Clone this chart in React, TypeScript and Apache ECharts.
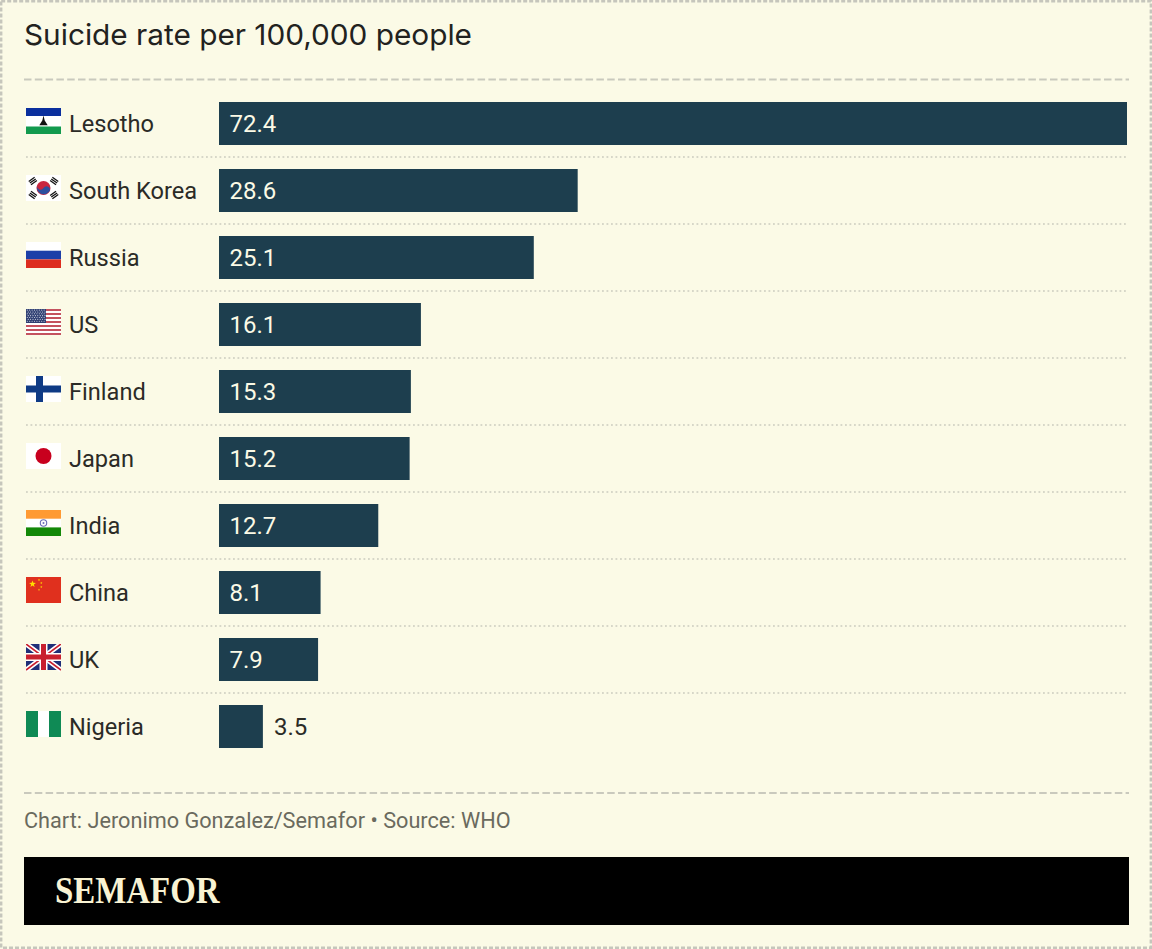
import React, { useEffect, useRef } from "react";
import * as echarts from "echarts";

const categories = ["Lesotho", "South Korea", "Russia", "US", "Finland", "Japan", "India", "China", "UK", "Nigeria"];
const rates = [72.4, 28.6, 25.1, 16.1, 15.3, 15.2, 12.7, 8.1, 7.9, 3.5];
const titleText = "Suicide rate per 100,000 people";
const footerText = "Chart: Jeronimo Gonzalez/Semafor • Source: WHO";
const brandText = "SEMAFOR";

const usStars = () => {
  let s = "";
  for (let r = 0; r < 7; r++) for (let c = 0; c < 8; c++) s += `<circle cx="${1.3 + c * 2.4 + (r % 2) * 0.9}" cy="${1.1 + r * 1.85}" r="0.55" fill="#d9dce8"/>`;
  return s;
};
const usStripes = () => {
  let s = "";
  for (let i = 0; i < 7; i++) s += `<rect y="${(i * 2 * 26) / 13}" width="35" height="2" fill="#c4525f"/>`;
  return s;
};
const star = (cx: number, cy: number, r: number) => {
  const pts = [];
  for (let i = 0; i < 10; i++) {
    const a = -Math.PI / 2 + (i * Math.PI) / 5;
    const q = i % 2 ? r * 0.4 : r;
    pts.push(`${(cx + q * Math.cos(a)).toFixed(2)},${(cy + q * Math.sin(a)).toFixed(2)}`);
  }
  return `<polygon points="${pts.join(" ")}" fill="#ffde00"/>`;
};
const trigram = (cx: number, cy: number, rot: number) =>
  `<g transform="translate(${cx} ${cy}) rotate(${rot})" fill="#111"><rect x="-3.6" y="-2.6" width="7.2" height="1.3"/><rect x="-3.6" y="-0.65" width="7.2" height="1.3"/><rect x="-3.6" y="1.3" width="7.2" height="1.3"/></g>`;

const flagBodies: Record<string, string> = {
  Lesotho: `<rect width="35" height="26" fill="#fff"/><rect width="35" height="8" fill="#0a2f9e"/><rect y="18.5" width="35" height="7.5" fill="#129a4e"/><path d="M17.5 7.6l1.2 4.8 3 4.8h-8.4l3-4.8z" fill="#111"/>`,
  "South Korea": `<rect width="35" height="26" fill="#fff"/><circle cx="17.5" cy="13" r="7" fill="#c9263f"/><path d="M10.9 10.8a3.6 3.6 0 0 0 6.6 2.2a3.6 3.6 0 0 1 6.6 2.2a7 7 0 0 1-13.2-4.4z" fill="#2b4f9e"/>${trigram(6.8, 6, -35)}${trigram(28.2, 6, 35)}${trigram(6.8, 20, 35)}${trigram(28.2, 20, -35)}`,
  Russia: `<rect width="35" height="26" fill="#fff"/><rect y="8.7" width="35" height="8.7" fill="#1c3fa8"/><rect y="17.4" width="35" height="8.6" fill="#dd2d1f"/>`,
  US: `<rect width="35" height="26" fill="#fff"/>${usStripes()}<rect width="20" height="14" fill="#2f3f72"/>${usStars()}`,
  Finland: `<rect width="35" height="26" fill="#fff"/><rect x="10" width="7" height="26" fill="#0e3a85"/><rect y="9.5" width="35" height="7" fill="#0e3a85"/>`,
  Japan: `<rect width="35" height="26" fill="#fff"/><circle cx="17.5" cy="13" r="8" fill="#c8001e"/>`,
  India: `<rect width="35" height="26" fill="#fff"/><rect width="35" height="8.7" fill="#ff9a33"/><rect y="17.4" width="35" height="8.6" fill="#138808"/><circle cx="17.5" cy="13" r="3.2" fill="none" stroke="#6a6fb8" stroke-width="1.1"/><circle cx="17.5" cy="13" r="1" fill="#6a6fb8"/>`,
  China: `<rect width="35" height="26" fill="#e0301e"/>${star(6.5, 7, 3.6)}${star(13, 3, 1.2)}${star(15.3, 6, 1.2)}${star(15.3, 10, 1.2)}${star(13, 12.8, 1.2)}`,
  UK: `<rect width="35" height="26" fill="#1f2f78"/><path d="M0 0L35 26M35 0L0 26" stroke="#fff" stroke-width="5"/><path d="M0 0L35 26M35 0L0 26" stroke="#c8202f" stroke-width="1.7"/><rect x="13.5" width="8" height="26" fill="#fff"/><rect y="9" width="35" height="8" fill="#fff"/><rect x="15" width="5" height="26" fill="#c8202f"/><rect y="10.5" width="35" height="5" fill="#c8202f"/>`,
  Nigeria: `<rect width="35" height="26" fill="#fff"/><rect width="12" height="26" fill="#0f8a55"/><rect x="23" width="12" height="26" fill="#0f8a55"/>`,
};

const flagUri = (name: string) =>
  "data:image/svg+xml;charset=utf-8," +
  encodeURIComponent(`<svg xmlns="http://www.w3.org/2000/svg" width="35" height="31" viewBox="0 0 35 31">${flagBodies[name]}</svg>`);

const BODY_FONT = "Roboto";
const INK = "#2b2b26";
const BG = "#fbfae6";
const RULE = "#c9c9bd";

export default function App() {
  const ref = useRef<HTMLDivElement>(null);
  useEffect(() => {
    document.body.style.margin = "0";
    document.body.style.background = BG;
    const chart = echarts.init(ref.current!, null, { renderer: "svg" });
    const rich: Record<string, any> = {
      name: { fontFamily: BODY_FONT, fontSize: 23.6, color: INK, padding: [0, 0, 0, 8] },
    };
    categories.forEach((c, i) => {
      rich["f" + i] = { width: 35, height: 31, backgroundColor: { image: flagUri(c) } };
    });
    const maxRate = rates[0];
    const pxPerUnit = 908 / maxRate;
    chart.setOption({
      animation: false,
      backgroundColor: BG,
      grid: { left: 26, right: 25, top: 90, height: 670, containLabel: false },
      xAxis: { type: "value", min: -193 / pxPerUnit, max: maxRate, show: false },
      yAxis: {
        type: "category",
        inverse: true,
        data: categories,
        axisLine: { show: false },
        axisTick: { show: false },
        splitLine: {
          show: true,
          showMinLine: false,
          showMaxLine: false,
          lineStyle: { color: "#cbcbbf", width: 1.5, type: [1.8, 2.7] },
        },
        axisLabel: {
          inside: true,
          margin: 0,
          interval: 0,
          align: "left",
          formatter: (v: string) => `{f${categories.indexOf(v)}|}{name|${v}}`,
          rich,
        },
      },
      series: [
        {
          type: "bar",
          barWidth: 43,
          data: rates.map((v) => ({
            value: v,
            label:
              v < 5
                ? { position: "right", distance: 11, color: INK }
                : { position: "insideLeft", distance: 10.5, color: "#fbfae6" },
          })),
          itemStyle: { color: "#1d3e4e" },
          label: { show: true, fontFamily: BODY_FONT, fontSize: 24 },
        },
      ],
      graphic: [
        { type: "rect", shape: { x: 1.2, y: 1.2, width: 1149.6, height: 946.6 }, style: { fill: "none", stroke: "#c6c6bc", lineWidth: 2.4, lineDash: [4, 2] } },
        { type: "text", x: 24, y: 35, scaleX: 1.027, style: { text: titleText, fontFamily: "Inter", fontSize: 29, fill: "#22221e", verticalAlign: "middle" } },
        { type: "line", shape: { x1: 24, y1: 79.5, x2: 1129, y2: 79.5 }, style: { stroke: RULE, lineWidth: 2, lineDash: [7.5, 3.3] } },
        { type: "line", shape: { x1: 24, y1: 793, x2: 1129, y2: 793 }, style: { stroke: RULE, lineWidth: 2, lineDash: [7.5, 3.3] } },
        { type: "text", x: 24, y: 820, style: { text: footerText, fontFamily: BODY_FONT, fontSize: 21.7, fill: "#6a6a5e", verticalAlign: "middle" } },
        { type: "rect", shape: { x: 24, y: 857, width: 1105, height: 68 }, style: { fill: "#000" } },
        { type: "text", x: 55, y: 891, scaleX: 0.89, style: { text: brandText, fontFamily: "Liberation Serif", fontWeight: "bold", fontSize: 37, fill: "#f9f3d3", verticalAlign: "middle" } },
      ],
    });
    return () => chart.dispose();
  }, []);
  return <div ref={ref} style={{ width: 1152, height: 949 }} />;
}
